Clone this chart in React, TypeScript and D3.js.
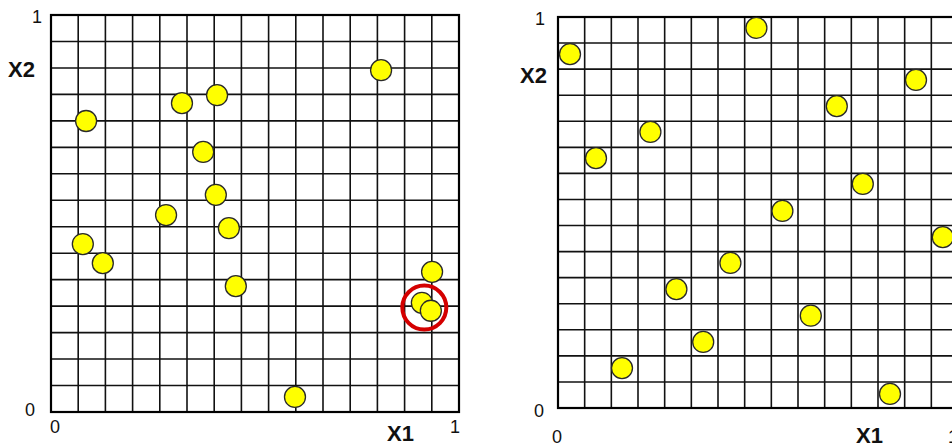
import React from "react";
import * as d3 from "d3";

// Left design: random-looking sample
const leftX = [0.086, 0.321, 0.407, 0.809, 0.373, 0.404, 0.282, 0.436, 0.078, 0.127, 0.453, 0.934, 0.909, 0.931, 0.598];
const leftY = [0.733, 0.778, 0.798, 0.861, 0.655, 0.547, 0.496, 0.463, 0.423, 0.375, 0.317, 0.353, 0.275, 0.255, 0.038];
// highlighted cluster on the left design
const highlightX = [0.915];
const highlightY = [0.263];

// Right design: space-filling sample
const rightX = [0.030, 0.496, 0.095, 0.231, 0.697, 0.895, 0.762, 0.561, 0.962, 0.431, 0.296, 0.632, 0.363, 0.160, 0.830];
const rightY = [0.905, 0.972, 0.639, 0.706, 0.772, 0.839, 0.573, 0.504, 0.437, 0.371, 0.304, 0.236, 0.169, 0.102, 0.036];

const gridDivisions = 15;
const axisMin = "0";
const axisMax = "1";
const xLabel = "X1";
const yLabel = "X2";

type PanelProps = {
  x0: number; x1: number; y0: number; y1: number;
  xs: number[]; ys: number[];
  hx?: number[]; hy?: number[];
  labels: { t: string; x: number; y: number; anchor: string; bold?: boolean }[];
};

function Panel({ x0, x1, y0, y1, xs, ys, hx = [], hy = [], labels }: PanelProps) {
  const xScale = d3.scaleLinear().domain([0, 1]).range([x0, x1]);
  const yScale = d3.scaleLinear().domain([0, 1]).range([y1, y0]);
  const gridVals = d3.range(gridDivisions + 1).map((i) => i / gridDivisions);
  return (
    <g>
      <rect x={x0} y={y0} width={x1 - x0} height={y1 - y0} fill="#fff" />
      {gridVals.map((v, i) => (
        <line key={"v" + i} x1={xScale(v)} x2={xScale(v)} y1={y0} y2={y1} stroke="#111" strokeWidth={1.6} />
      ))}
      {gridVals.map((v, i) => (
        <line key={"h" + i} x1={x0} x2={x1} y1={yScale(v)} y2={yScale(v)} stroke="#111" strokeWidth={1.6} />
      ))}
      <rect x={x0} y={y0} width={x1 - x0} height={y1 - y0} fill="none" stroke="#000" strokeWidth={2.2} />
      {xs.map((x, i) => (
        <circle key={"p" + i} cx={xScale(x)} cy={yScale(ys[i])} r={10.5} fill="#ffff00" stroke="#2a2a2a" strokeWidth={1.3} />
      ))}
      {hx.map((x, i) => (
        <circle key={"hl" + i} cx={xScale(x)} cy={yScale(hy[i])} r={22} fill="none" stroke="#d40000" strokeWidth={4} />
      ))}
      {labels.map((l, i) => (
        <text
          key={"t" + i}
          x={l.x}
          y={l.y}
          textAnchor={l.anchor as any}
          fontFamily="'Liberation Sans', Arial, sans-serif"
          fontSize={l.bold ? 22 : 18}
          fontWeight={l.bold ? "bold" : "normal"}
          fill="#111"
        >
          {l.t}
        </text>
      ))}
    </g>
  );
}

export default function App() {
  return (
    <svg
      width={952}
      height={446}
      style={{ position: "absolute", left: 0, top: 0, background: "#fff" }}
    >
      <rect x={0} y={0} width={952} height={446} fill="#fff" />
      <Panel
        x0={51} x1={459} y0={15} y1={412}
        xs={leftX} ys={leftY} hx={highlightX} hy={highlightY}
        labels={[
          { t: axisMax, x: 37, y: 23, anchor: "middle" },
          { t: yLabel, x: 8, y: 77, anchor: "start", bold: true },
          { t: axisMin, x: 30, y: 416, anchor: "middle" },
          { t: axisMin, x: 55, y: 433, anchor: "middle" },
          { t: xLabel, x: 387, y: 441, anchor: "start", bold: true },
          { t: axisMax, x: 455, y: 433, anchor: "middle" },
        ]}
      />
      <Panel
        x0={558} x1={958} y0={17} y1={408}
        xs={rightX} ys={rightY}
        labels={[
          { t: axisMax, x: 540, y: 25, anchor: "middle" },
          { t: yLabel, x: 520, y: 83, anchor: "start", bold: true },
          { t: axisMin, x: 539, y: 417, anchor: "middle" },
          { t: axisMin, x: 557, y: 443, anchor: "middle" },
          { t: xLabel, x: 856, y: 443, anchor: "start", bold: true },
          { t: axisMax, x: 953, y: 443, anchor: "middle" },
        ]}
      />
    </svg>
  );
}
